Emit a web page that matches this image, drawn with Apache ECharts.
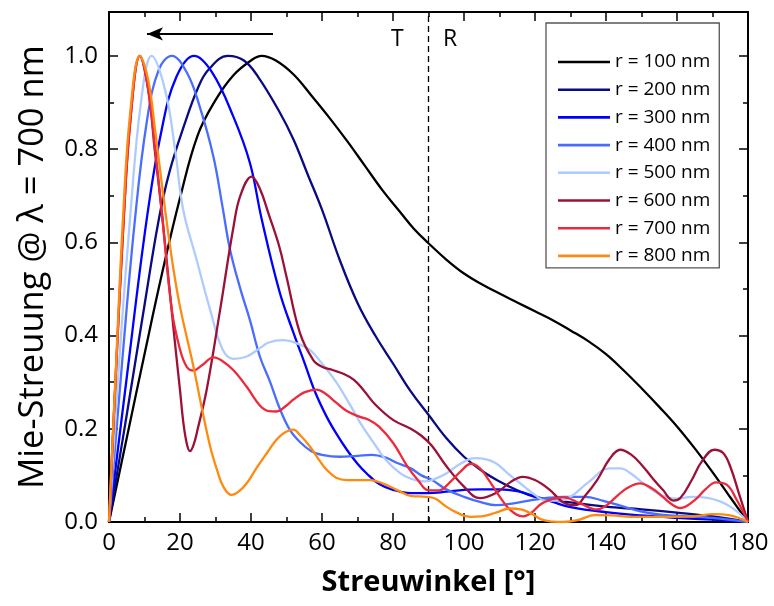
<!DOCTYPE html>
<html><head><meta charset="utf-8">
<script src="https://cdn.jsdelivr.net/npm/echarts@6/dist/echarts.min.js"></script>
<style>html,body{margin:0;padding:0;background:#fff}#c{width:774px;height:606px}</style>
</head><body><div id="c"></div>
<script>
// ---- data: [scattering angle (deg), normalised Mie scattering] ----
const seriesNames = ['r = 100 nm','r = 200 nm','r = 300 nm','r = 400 nm','r = 500 nm','r = 600 nm','r = 700 nm','r = 800 nm'];
const r100 = [[0,0],[5,0.18],[10,0.36],[15,0.535],[20,0.695],[25,0.83],[30,0.905],[35,0.958],[40,0.99],[43,1.0],[47,0.99],[52,0.96],[57,0.915],[62,0.868],[67,0.818],[72,0.765],[77,0.712],[82,0.665],[86,0.628],[90,0.598],[95,0.563],[100,0.533],[105,0.51],[110,0.49],[115,0.471],[120,0.452],[125,0.433],[130,0.411],[135,0.388],[140,0.36],[145,0.325],[150,0.287],[155,0.247],[160,0.205],[165,0.158],[170,0.107],[175,0.053],[180,0]];
const r200 = [[0,0],[5,0.23],[10,0.465],[14,0.648],[17,0.75],[21.4,0.856],[25,0.93],[28,0.97],[33.5,1.0],[38,0.99],[42,0.955],[48,0.88],[52,0.82],[56,0.745],[60,0.67],[65,0.562],[70,0.47],[75,0.4],[80,0.34],[85,0.28],[90,0.23],[95,0.18],[100,0.14],[105,0.11],[110,0.087],[115,0.068],[120,0.054],[130,0.042],[140,0.033],[150,0.027],[160,0.02],[170,0.012],[180,0]];
const r300 = [[0,0],[5,0.31],[10.6,0.648],[14.8,0.84],[19,0.955],[24,1.0],[29,0.965],[35,0.87],[39.7,0.77],[43,0.65],[48,0.495],[52,0.405],[55,0.343],[58,0.28],[61.3,0.226],[64,0.19],[67,0.155],[70,0.125],[72.6,0.104],[76,0.082],[80,0.069],[85,0.062],[90,0.062],[95,0.065],[100,0.069],[105,0.07],[110,0.07],[115,0.066],[120,0.055],[125,0.043],[130,0.032],[140,0.021],[150,0.014],[160,0.009],[170,0.005],[180,0]];
const r400 = [[0,0],[4,0.37],[7.3,0.648],[10.6,0.856],[14,0.97],[17.7,1.0],[22,0.963],[25.6,0.89],[29.4,0.784],[32,0.675],[34.1,0.584],[37,0.5],[39.7,0.433],[42.5,0.355],[45.4,0.3],[48,0.245],[51,0.197],[54,0.17],[57,0.152],[60,0.144],[65,0.14],[70,0.142],[74,0.144],[78,0.138],[81,0.127],[85,0.115],[88,0.1],[91,0.09],[95,0.07],[100,0.054],[105,0.042],[109,0.036],[114,0.04],[119,0.047],[124,0.052],[128,0.054],[134,0.054],[139,0.046],[145,0.033],[150,0.022],[156,0.015],[163,0.012],[170,0.009],[180,0]];
const r500 = [[0,0],[3,0.36],[5.9,0.648],[9,0.9],[12,1.0],[15.8,0.927],[18.6,0.8],[20.9,0.67],[24.7,0.562],[28.5,0.455],[32,0.37],[35,0.35],[38.8,0.355],[42.5,0.373],[45,0.385],[49,0.39],[53,0.383],[56.6,0.369],[60,0.34],[64,0.3],[68,0.25],[71,0.21],[75,0.165],[78,0.133],[82,0.105],[85,0.093],[89,0.087],[92,0.093],[95,0.104],[99,0.125],[103,0.137],[106,0.135],[109,0.126],[113,0.1],[117,0.076],[120,0.058],[123,0.046],[127,0.046],[130,0.054],[135,0.085],[141,0.115],[144,0.115],[147,0.104],[151,0.08],[156,0.056],[160,0.05],[164,0.054],[169,0.051],[175,0.033],[180,0]];
const r600 = [[0,0],[2,0.33],[4,0.63],[6,0.86],[8.7,1.0],[11,0.93],[13,0.79],[14.8,0.67],[16.7,0.526],[18.6,0.383],[20,0.283],[21,0.21],[22,0.165],[22.8,0.152],[23.8,0.165],[25,0.2],[27.5,0.283],[31.3,0.455],[35,0.63],[37,0.7],[40.2,0.741],[42.5,0.715],[45,0.66],[48,0.59],[50,0.526],[53.8,0.405],[57.5,0.348],[60,0.333],[63,0.326],[66,0.318],[69,0.305],[72,0.28],[75,0.252],[80,0.219],[85,0.2],[88,0.185],[91,0.163],[95,0.12],[100,0.076],[104.5,0.051],[109,0.062],[113,0.085],[116.5,0.097],[120,0.09],[124,0.07],[128,0.042],[131.5,0.036],[134,0.055],[137.5,0.09],[141,0.135],[144,0.155],[147,0.145],[150,0.123],[153,0.095],[156,0.069],[159,0.046],[161,0.052],[164,0.088],[167,0.13],[170.5,0.155],[173,0.148],[175,0.119],[177.5,0.06],[180,0]];
const r700 = [[0,0],[2,0.33],[4,0.63],[6,0.86],[8.7,1.0],[11,0.93],[13,0.8],[14.8,0.67],[17.7,0.455],[20,0.37],[21.9,0.333],[23.8,0.325],[26,0.335],[29.5,0.353],[32,0.345],[35,0.326],[38.8,0.29],[42.5,0.25],[45,0.238],[47.2,0.237],[50,0.25],[52,0.263],[55,0.278],[58.5,0.284],[61,0.275],[64,0.256],[67,0.238],[70.5,0.226],[73,0.22],[76,0.205],[80,0.17],[84,0.12],[87,0.09],[90,0.068],[93,0.068],[96,0.085],[99,0.108],[102,0.125],[104.5,0.115],[107,0.09],[110,0.055],[113,0.026],[116.5,0.012],[119,0.02],[122,0.04],[128,0.053],[132.7,0.04],[137.4,0.027],[140,0.035],[143,0.055],[146,0.073],[149.6,0.083],[153,0.072],[156,0.054],[158.5,0.038],[161,0.03],[165,0.047],[168,0.07],[171,0.085],[174,0.08],[177,0.045],[180,0]];
const r800 = [[0,0],[2,0.34],[4,0.66],[6,0.88],[8.7,1.0],[11,0.95],[13,0.84],[15.8,0.67],[18,0.55],[20,0.462],[23.8,0.333],[26,0.25],[28.5,0.162],[30.5,0.11],[32.2,0.076],[34.5,0.058],[36.5,0.065],[38.8,0.083],[41.5,0.115],[44.4,0.147],[47,0.175],[49.1,0.19],[51.9,0.198],[54,0.185],[56.6,0.162],[59,0.135],[61.3,0.112],[64,0.095],[67,0.09],[70.5,0.09],[73.5,0.09],[77,0.083],[81,0.069],[85,0.056],[89.5,0.054],[92,0.05],[95,0.033],[98,0.02],[101.7,0.011],[105,0.012],[109,0.02],[113,0.029],[116,0.027],[119,0.018],[122,0.005],[125,0.001],[128,0],[132,0.004],[137,0.015],[142,0.014],[147,0.011],[156,0.011],[165,0.012],[170,0.017],[175,0.014],[180,0]];
const seriesData = [r100, r200, r300, r400, r500, r600, r700, r800];
const boundaryAngle = 90;          // T | R boundary
const arrowFrom = [46.2, 1.047];   // annotation arrow (data coords)
const arrowTo = [10.7, 1.047];

// ---- styles ----
const lineColors = ['#000000','#0a0a82','#0000ff','#4a6cff','#aecbff','#9b1238','#ec2a3c','#ff8a10'];
const FONT = 'Open Sans';

const chart = echarts.init(document.getElementById('c'), null, {renderer: 'canvas'});

function xAx(pos, labels) {
  return {
    type: 'value', min: 0, max: 180, interval: 20, position: pos,
    axisLine: {show: true, onZero: false, lineStyle: {color: '#000', width: 2}},
    axisTick: {show: true, inside: true, length: 9, lineStyle: {color: '#000', width: 1.5}},
    minorTick: {show: true, splitNumber: 2, length: 5, lineStyle: {color: '#000', width: 1.5}},
    splitLine: {show: false},
    axisLabel: {show: labels, color: '#000', fontFamily: FONT, fontSize: 24, margin: 9},
    name: labels ? 'Streuwinkel [°]' : '', nameLocation: 'middle', nameGap: 46,
    nameTextStyle: {color: '#000', fontFamily: FONT, fontSize: 29, fontWeight: 'bold'}
  };
}
function yAx(pos, labels) {
  return {
    type: 'value', min: 0, max: 1.094, interval: 0.2, position: pos,
    axisLine: {show: true, onZero: false, lineStyle: {color: '#000', width: 2}},
    axisTick: {show: true, inside: true, length: 9, lineStyle: {color: '#000', width: 1.5}},
    minorTick: {show: true, splitNumber: 2, length: 5, lineStyle: {color: '#000', width: 1.5}},
    splitLine: {show: false},
    axisLabel: {show: labels, color: '#000', fontFamily: FONT, fontSize: 24, margin: 11,
      showMaxLabel: false, formatter: v => v.toFixed(1)},
    name: labels ? 'Mie-Streuung @ λ = 700 nm' : '', nameLocation: 'middle', nameGap: 58,
    nameTextStyle: {color: '#000', fontFamily: FONT, fontSize: 34.5}
  };
}

const series = seriesData.map((d, i) => ({
  name: seriesNames[i], type: 'line', data: d,
  xAxisIndex: 0, yAxisIndex: 0,
  showSymbol: false, symbol: 'none', smooth: 0.4,
  lineStyle: {color: lineColors[i], width: 2.3},
  itemStyle: {color: lineColors[i]},
  z: 2 + i
}));
series[0].markLine = {
  silent: true, animation: false,
  data: [
    {xAxis: boundaryAngle, symbol: 'none', lineStyle: {type: [6, 4], color: '#000', width: 1.3}, label: {show: false}},
    [{coord: arrowFrom, symbol: 'none'}, {coord: arrowTo, symbol: 'arrow', symbolSize: [10, 16]}]
  ],
  symbol: ['none', 'none'],
  lineStyle: {color: '#000', width: 2, type: 'solid'},
  label: {show: false}
};

chart.setOption({
  animation: false,
  backgroundColor: '#fff',
  grid: {left: 109, right: 26, top: 12, bottom: 84, containLabel: false},
  xAxis: [xAx('bottom', true), xAx('top', false)],
  yAxis: [yAx('left', true), yAx('right', false)],
  legend: {
    orient: 'vertical', left: 546, top: 23,
    padding: [29, 9, 2, 12],
    icon: 'rect',
    itemWidth: 52, itemHeight: 2.6, itemGap: 7.7,
    borderColor: '#555', borderWidth: 1.3, backgroundColor: '#fff',
    textStyle: {color: '#000', fontFamily: FONT, fontSize: 19, lineHeight: 20},
    data: seriesNames
  },
  graphic: [
    {type: 'text', left: 391, top: 28, style: {text: 'T', font: '23px "Open Sans"', fill: '#000'}},
    {type: 'text', left: 443, top: 28, style: {text: 'R', font: '23px "Open Sans"', fill: '#000'}}
  ],
  series: series
});
</script></body></html>
